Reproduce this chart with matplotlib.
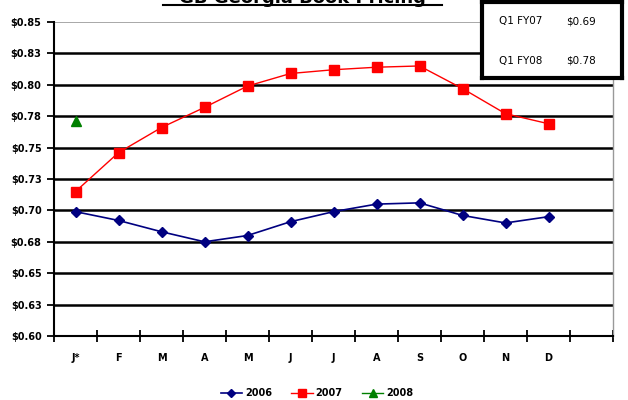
import matplotlib.pyplot as plt
from matplotlib.lines import Line2D

# Monthly book prices (dollars per unit)
months = ['J*', 'F', 'M', 'A', 'M', 'J', 'J', 'A', 'S', 'O', 'N', 'D']
prices_2006 = [0.699, 0.692, 0.683, 0.675, 0.680, 0.691, 0.699, 0.705, 0.706, 0.696, 0.690, 0.695]
prices_2007 = [0.715, 0.746, 0.766, 0.782, 0.799, 0.809, 0.812, 0.814, 0.815, 0.797, 0.777, 0.769]
prices_2008 = [0.771]

y_ticks = [0.60, 0.625, 0.65, 0.675, 0.70, 0.725, 0.75, 0.775, 0.80, 0.825, 0.85]
y_labels = ['$0.60', '$0.63', '$0.65', '$0.68', '$0.70', '$0.73', '$0.75', '$0.78', '$0.80', '$0.83', '$0.85']

quarter_rows = [('Q1 FY07', '$0.69'), ('Q1 FY08', '$0.78')]

fig = plt.figure(figsize=(6.28, 4.0), dpi=100)
ax = fig.add_axes([54 / 628, 64 / 400, 559 / 628, 314 / 400])

x = [i + 0.5 for i in range(len(months))]

# gridlines: heavy black, top one light gray
for v in y_ticks[1:-1]:
    ax.axhline(v, color='black', lw=1.8, zorder=1)
ax.axhline(y_ticks[-1], color='#999999', lw=1.2, zorder=1)

ax.plot(x, prices_2006, color='#000080', marker='D', ms=5.5, lw=1.2, label='2006', zorder=3)
ax.plot(x, prices_2007, color='#ff0000', marker='s', ms=6.5, lw=1.0, label='2007', zorder=3)
ax.plot(x[:len(prices_2008)], prices_2008, color='#008000', marker='^', ms=6.5, lw=1.0,
        label='2008', zorder=3)

ax.set_xlim(0, 13)
ax.set_ylim(0.60, 0.85)

ax.set_xticks(range(14))
ax.set_xticklabels([])
ax.tick_params(axis='x', which='major', direction='inout', length=8, width=1.3)
ax.set_xticks(x, minor=True)
ax.set_xticklabels(months, minor=True, fontsize=7, fontweight='bold')
ax.tick_params(axis='x', which='minor', length=0, pad=12)

ax.set_yticks(y_ticks)
ax.set_yticklabels(y_labels, fontsize=7, fontweight='bold')
ax.tick_params(axis='y', direction='out', length=5, width=1.3, pad=4)

ax.spines['top'].set_visible(False)
ax.spines['right'].set_color('#999999')
ax.spines['right'].set_linewidth(1.0)
ax.spines['left'].set_linewidth(1.5)
ax.spines['bottom'].set_linewidth(1.5)

# title sits at the very top edge
fig.text(302 / 628, 1 - 3 / 400, 'GB Georgia Book Pricing', ha='center', va='baseline',
         fontsize=13, fontweight='bold')
fig.add_artist(Line2D([163 / 628, 442 / 628], [1 - 5 / 400, 1 - 5 / 400],
                      color='black', lw=1.5, transform=fig.transFigure))

# quarterly summary box
box_ax = fig.add_axes([482 / 628, 1 - 78 / 400, 140 / 628, 76 / 400])
box_ax.set_xticks([])
box_ax.set_yticks([])
for s in box_ax.spines.values():
    s.set_linewidth(3)
    s.set_color('black')
for i, (q, p) in enumerate(quarter_rows):
    yy = 0.75 - i * 0.52
    box_ax.text(0.12, yy, q, fontsize=7.5, va='center', transform=box_ax.transAxes)
    box_ax.text(0.6, yy, p, fontsize=7.5, va='center', transform=box_ax.transAxes)

fig.legend(loc='center', bbox_to_anchor=(317 / 628, 1 - 393 / 400), ncol=3, frameon=False,
           prop={'size': 7, 'weight': 'bold'}, handlelength=2.2, columnspacing=2.0,
           handletextpad=0.3, markerscale=0.8)

fig.savefig('out.png', dpi=100)
